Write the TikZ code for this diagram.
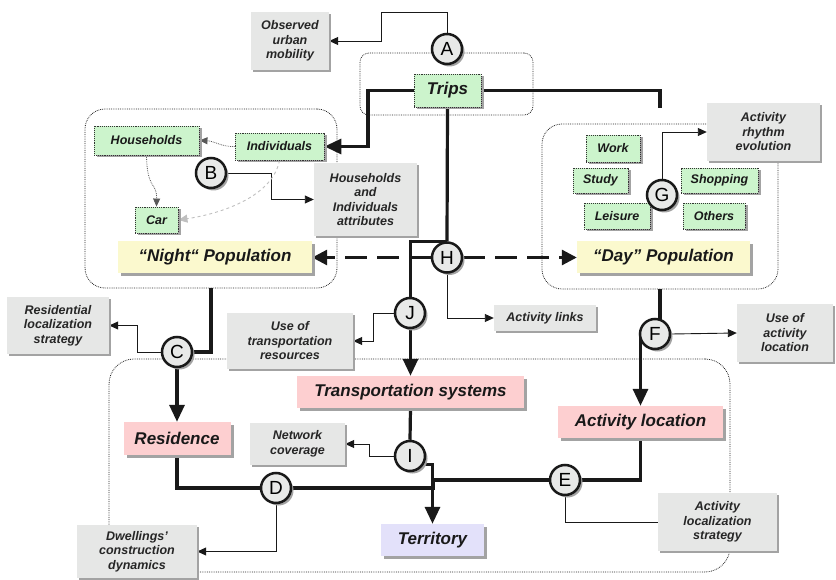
\documentclass[tikz,border=0pt]{standalone}
\usepackage{fontspec}
\setmainfont{Liberation Sans}
\usetikzlibrary{arrows.meta,shadows,backgrounds}
\definecolor{boxgrey}{HTML}{E6E7E6}
\definecolor{tripgreen}{HTML}{CCF4CC}
\definecolor{popyellow}{HTML}{FBF9CE}
\definecolor{landpink}{HTML}{FDCFD0}
\definecolor{terrblue}{HTML}{E3E1FA}
\definecolor{circgrey}{HTML}{E8E9E8}
\definecolor{shadowgrey}{HTML}{A3A3A3}
\begin{document}
\begin{tikzpicture}
	[x=1pt,y=-1pt,>={Triangle[length=9pt,width=8pt]},
	greybox/.style={fill=boxgrey,inner sep=0pt,align=center,text=black!85,font=\bfseries\itshape\fontsize{12.5}{14.5}\selectfont,general shadow={fill=shadowgrey,shadow xshift=2pt,shadow yshift=-2pt}},
	greenbox/.style={fill=tripgreen,draw=black!80,densely dotted,line width=0.9pt,inner sep=0pt,text=black!90,font=\bfseries\itshape\fontsize{12.5}{14.5}\selectfont,general shadow={fill=shadowgrey,shadow xshift=2.5pt,shadow yshift=-2.5pt}},
	bigbox/.style={inner sep=0pt,text=black!90,font=\bfseries\itshape\fontsize{17}{20}\selectfont,general shadow={fill=shadowgrey,shadow xshift=3pt,shadow yshift=-3pt}},
	letter/.style={circle,draw=black!90,line width=2.5pt,fill=circgrey,minimum size=30pt,inner sep=0pt,font=\fontsize{19}{19}\selectfont,general shadow={fill=shadowgrey,shadow xshift=2.5pt,shadow yshift=-2.5pt}},
	group/.style={draw=black!85,densely dotted,line width=0.8pt,rounded corners=20pt,inner sep=0pt},
	strong/.style={line width=3.2pt,draw=black!90,>={Triangle[length=17pt,width=15pt]}},
	weak/.style={line width=0.9pt,draw=black!90},
	dashy/.style={line width=3pt,draw=black!90,dash pattern=on 22pt off 10pt,>={Triangle[length=15pt,width=15pt]}},
	faint/.style={line width=0.8pt,draw=black!65,densely dotted,>={Triangle[length=8pt,width=7pt]}},
	ghost/.style={line width=0.9pt,draw=black!25,dashed,>={Triangle[length=9pt,width=8pt]}}]
	\useasboundingbox (0,0) rectangle (836,580);
	\begin{pgfonlayer}{background}
		\node[group,name=tripsgrp,minimum width=173pt,minimum height=62pt,rounded corners=9pt] at (446.5,84) {};
		\node[group,name=nightgrp,minimum width=252pt,minimum height=179pt] at (211,198.5) {};
		\node[group,name=daygrp,minimum width=236pt,minimum height=165pt] at (660,206.5) {};
		\node[group,name=landgrp,minimum width=621pt,minimum height=213pt,rounded corners=25pt] at (419.5,465.5) {};
	\end{pgfonlayer}
	\node[greybox,name=obs,minimum width=78pt,minimum height=58pt] at (290,41) {Observed\\urban\\mobility};
	\node[greybox,name=hhattr,minimum width=103pt,minimum height=73pt] at (365.5,199.5) {Households\\and\\Individuals\\attributes};
	\node[greybox,name=rhythm,minimum width=113pt,minimum height=58pt] at (763.5,132) {Activity\\rhythm\\evolution};
	\node[greybox,name=resloc,minimum width=102pt,minimum height=57pt] at (58,325.5) {Residential\\localization\\strategy};
	\node[greybox,name=usetrans,minimum width=126pt,minimum height=56pt] at (290,341) {Use of\\transportation\\resources};
	\node[greybox,name=links,minimum width=102pt,minimum height=26pt] at (545,318) {Activity links};
	\node[greybox,name=useact,minimum width=96pt,minimum height=58pt] at (785,333) {Use of\\activity\\location};
	\node[greybox,name=netcov,minimum width=95pt,minimum height=42pt] at (297.5,444) {Network\\coverage};
	\node[greybox,name=dwell,minimum width=120pt,minimum height=53pt] at (137,551.5) {Dwellings'\\construction\\dynamics};
	\node[greybox,name=actstrat,minimum width=119pt,minimum height=58pt] at (717.5,522) {Activity\\localization\\strategy};
	\node[greenbox,name=trips,minimum width=67pt,minimum height=33pt,font=\bfseries\itshape\fontsize{17}{20}\selectfont] at (447.5,90.5) {Trips};
	\node[greenbox,name=househ,minimum width=105pt,minimum height=29pt] at (146.5,140.5) {Households};
	\node[greenbox,name=indiv,minimum width=89pt,minimum height=27pt] at (279.5,146.5) {Individuals};
	\node[greenbox,name=car,minimum width=43pt,minimum height=26pt] at (156.5,220) {Car};
	\node[greenbox,name=work,minimum width=54pt,minimum height=27pt] at (613,148.5) {Work};
	\node[greenbox,name=study,minimum width=55pt,minimum height=25pt] at (600.5,180.5) {Study};
	\node[greenbox,name=shop,minimum width=77pt,minimum height=25pt] at (719.5,180.5) {Shopping};
	\node[greenbox,name=leisure,minimum width=66pt,minimum height=26pt] at (617,216) {Leisure};
	\node[greenbox,name=others,minimum width=62pt,minimum height=26pt] at (714,216) {Others};
	\node[bigbox,name=night,fill=popyellow,minimum width=194pt,minimum height=32pt] at (215,257.5) {“Night“ Population};
	\node[bigbox,name=day,fill=popyellow,minimum width=173pt,minimum height=32pt] at (663.5,257.5) {“Day” Population};
	\node[bigbox,name=trans,fill=landpink,minimum width=227pt,minimum height=32pt] at (410.5,392) {Transportation systems};
	\node[bigbox,name=residence,fill=landpink,minimum width=107pt,minimum height=33pt] at (177,438.5) {Residence};
	\node[bigbox,name=actloc,fill=landpink,minimum width=165pt,minimum height=32pt] at (640.5,422) {Activity location};
	\node[bigbox,name=territory,fill=terrblue,minimum width=103pt,minimum height=32pt] at (432.5,540) {Territory};
	\node[letter,name=A] at (447,49) {A};
	\node[letter,name=B] at (211,173) {B};
	\node[letter,name=C] at (177,352) {C};
	\node[letter,name=D] at (276,488) {D};
	\node[letter,name=E] at (565,480) {E};
	\node[letter,name=F] at (655,334) {F};
	\node[letter,name=G] at (662,195) {G};
	\node[letter,name=H] at (447,257.5) {H};
	\node[letter,name=I] at (410,456) {I};
	\node[letter,name=J] at (410,313) {J};
	\coordinate (tripsend) at (660,108);
	\begin{pgfonlayer}{background}
		\draw[weak,->](A.north)|-(381,12)|-(obs.east);
		\draw[strong,->](trips.west)--(368,90.5)|-(indiv.east);
		\draw[strong](trips.east)-|(tripsend);
		\draw[strong](trips.south)--(H.north);
		\draw[strong,->](H.north)-|(trans.north);
		\draw[dashy,->](H.west)--(night.east);
		\draw[dashy,->](H.east)--(day.west);
		\draw[weak,->](H.south)|-(links.west);
		\draw[weak,->](B.east)--(271,173)|-(hhattr.west);
		\draw[faint,->](indiv.west)..controls(222,147)and(214,141)..(househ.east);
		\draw[faint,->](househ.south)..controls(147,190)and(157,182)..(car.north);
		\draw[ghost,->](indiv.south)..controls(273,195)and(225,213)..(car.east);
		\draw[weak,->](G.north)|-(rhythm.west);
		\draw[strong](nightgrp.south)|-(C.east);
		\draw[strong,->](C.south)--(residence.north);
		\draw[weak,->](C.west)--(137,352)|-(resloc.east);
		\draw[weak,->](J.west)--(373,313)|-(usetrans.east);
		\draw[strong](daygrp.south)--(daygrp.south|-F.center);
		\draw[weak,->](F.east)--(useact.west);
		\draw[strong,->](actloc.north|-F.center)--(actloc.north);
		\draw[strong](trans.south)--(I.north);
		\draw[weak,->](I.west)--(369,456)|-(netcov.east);
		\draw[strong,->](I.-30)-|(territory.north);
		\draw[strong](residence.south)|-(D.west);
		\draw[strong](D.east)-|(433,480)--(E.west);
		\draw[strong](E.east)-|(actloc.south);
		\draw[weak,->](D.south)|-(dwell.east);
		\draw[weak](E.south)|-(actstrat.west);
	\end{pgfonlayer}
\end{tikzpicture}
\end{document}
